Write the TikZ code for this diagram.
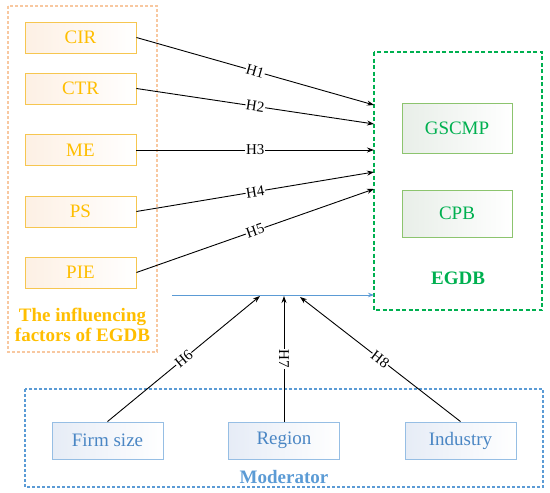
\documentclass[tikz,border=0pt]{standalone}
\usepackage{fontspec}
\setmainfont{Liberation Serif}
\usetikzlibrary{arrows.meta, positioning}
\definecolor{gold}{RGB}{255,190,0}
\definecolor{goldline}{RGB}{246,198,80}
\definecolor{peach}{RGB}{248,200,160}
\definecolor{goldfill}{RGB}{253,240,228}
\definecolor{egreen}{RGB}{0,176,80}
\definecolor{greenline}{RGB}{140,196,110}
\definecolor{greenfill}{RGB}{232,238,232}
\definecolor{mblue}{RGB}{91,155,213}
\definecolor{blueline}{RGB}{150,190,228}
\definecolor{bluetext}{RGB}{74,134,196}
\definecolor{bluefill}{RGB}{230,236,246}

\begin{document}
\begin{tikzpicture}[x=1pt, y=-1pt, >={Stealth[length=7pt, width=5pt]},
    bigfont/.style={font=\fontsize{19}{20}\selectfont},
    factor/.style={draw=goldline, line width=0.9pt, left color=goldfill, right color=white,
        text=gold, bigfont, minimum width=111pt, minimum height=31pt, inner sep=0pt},
    outcome/.style={draw=greenline, line width=0.9pt, left color=greenfill, right color=white,
        text=egreen, bigfont, minimum width=110pt, inner sep=0pt},
    modbox/.style={draw=blueline, line width=0.9pt, left color=bluefill, right color=white,
        text=bluetext, bigfont, minimum width=111pt, minimum height=37pt, inner sep=0pt},
    hlab/.style={fill=white, inner sep=0.6pt, font=\fontsize{15}{15}\selectfont, midway},
    link/.style={->, line width=0.9pt, black}]
\useasboundingbox (0,0) rectangle (550,493);

% frames
\draw[peach, line width=1.3pt, dash pattern=on 3pt off 2pt] (8,6) rectangle (157,352);
\draw[egreen, line width=1.8pt, dash pattern=on 4pt off 2.5pt] (374,52) rectangle (542,310);
\draw[mblue, line width=1.5pt, dash pattern=on 3pt off 2pt] (25,389) rectangle (543,487);

% influencing factors
\node[factor] (cir) at (80.5,37.5) {CIR};
\node[factor] (ctr) at (80.5,88.5) {CTR};
\node[factor] (me) at (80.5,150) {ME};
\node[factor] (ps) at (80.5,211.5) {PS};
\node[factor] (pie) at (80.5,272.5) {PIE};
\node[text=gold, font=\bfseries\fontsize{19}{20}\selectfont, align=center] (factors) at (82.5,325) {The influencing\\factors of EGDB};

% EGDB
\node[outcome, minimum height=50pt] (gscmp) at (457,128) {GSCMP};
\node[outcome, minimum height=47pt] (cpb) at (457,213.5) {CPB};
\node[text=egreen, font=\bfseries\fontsize{19}{20}\selectfont] (egdb) at (458,278) {EGDB};

% moderators
\node[modbox] (firm) at (107.5,440.5) {Firm size};
\node[modbox] (region) at (284,440.5) {Region};
\node[modbox] (industry) at (460.5,440.5) {Industry};
\node[text=mblue, font=\bfseries\fontsize{19}{20}\selectfont] (moderator) at (284,477) {Moderator};

% arrow ends
\coordinate (h1) at (374,105);
\coordinate (h2) at (374,124);
\coordinate (h3) at (374,150);
\coordinate (h4) at (374,172);
\coordinate (h5) at (374,189);
\coordinate (mstart) at (172,295);
\coordinate (mend) at (374,295);
\coordinate (h6) at (260,296);
\coordinate (h7) at (284,296);
\coordinate (h8) at (300,297);

\draw[link] (cir.east) -- node[hlab, sloped] {H1} (h1);
\draw[link] (ctr.east) -- node[hlab, sloped] {H2} (h2);
\draw[link] (me.east) -- node[hlab, sloped] {H3} (h3);
\draw[link] (ps.east) -- node[hlab, sloped] {H4} (h4);
\draw[link] (pie.east) -- node[hlab, sloped] {H5} (h5);

\draw[->, mblue, line width=1pt, >={Stealth[length=6pt, width=4.5pt]}] (mstart) -- (mend);

\draw[link] (firm.north) -- node[hlab, sloped] {H6} (h6);
\draw[link] (region.north) -- node[hlab, rotate=-90] {H7} (h7);
\draw[link] (industry.north) -- node[hlab, sloped] {H8} (h8);
\end{tikzpicture}
\end{document}
